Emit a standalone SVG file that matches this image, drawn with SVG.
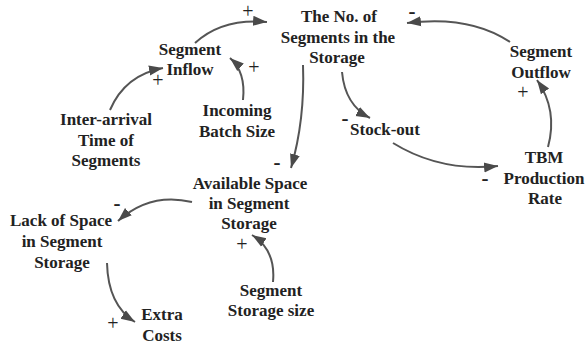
<svg xmlns="http://www.w3.org/2000/svg" width="586" height="344" viewBox="0 0 586 344" font-family="'Liberation Serif', 'Times New Roman', Times, serif">
<style>
.n text{font-weight:bold;font-size:17px;fill:#222;text-anchor:middle}
.e path{fill:none;stroke:#555;stroke-width:2;marker-end:url(#ah)}
.s{fill:#222;text-anchor:middle;dominant-baseline:central}
.p{font-size:20px}
.m{font-size:21px;font-weight:bold}
</style>
<defs>
<marker id="ah" markerUnits="userSpaceOnUse" markerWidth="15" markerHeight="12" refX="14" refY="5" orient="auto" viewBox="0 0 15 10">
<path d="M0,0 L14,5 L0,10 Z" fill="#4a4a4a"/>
</marker>
</defs>
<rect width="586" height="344" fill="#fff"/>
<g class="e" id="connectors">
<path d="M195,43 Q222,18 267,22"/>
<path d="M110,110 Q125,75 163,68"/>
<path d="M243,100 Q246,72 230,58"/>
<path d="M303,65 Q305,120 291,168"/>
<path d="M342,72 Q345,105 370,118"/>
<path d="M393,143 Q440,172 498,166"/>
<path d="M548,147 Q558,110 537,80"/>
<path d="M510,42 Q470,15 407,23"/>
<path d="M192,202 Q150,192 118,221"/>
<path d="M107,263 Q108,305 135,322"/>
<path d="M273,282 Q276,250 252,235"/>
</g>
<g class="n" id="storage"><text x="339" y="22">The No. of</text><text x="338" y="43">Segments in the</text><text x="337" y="63">Storage</text></g>
<g class="n" id="inflow"><text x="190" y="55">Segment</text><text x="190" y="75">Inflow</text></g>
<g class="n" id="interarrival"><text x="106" y="125">Inter-arrival</text><text x="106" y="146">Time of</text><text x="106" y="166">Segments</text></g>
<g class="n" id="batch"><text x="237" y="116">Incoming</text><text x="237" y="137">Batch Size</text></g>
<g class="n" id="outflow"><text x="541" y="57">Segment</text><text x="541" y="78">Outflow</text></g>
<g class="n" id="stockout"><text x="385" y="135">Stock-out</text></g>
<g class="n" id="tbm"><text x="544" y="163">TBM</text><text x="544" y="184">Production</text><text x="545" y="204">Rate</text></g>
<g class="n" id="available"><text x="250" y="189">Available Space</text><text x="249" y="209">in Segment</text><text x="249" y="229">Storage</text></g>
<g class="n" id="lack"><text x="61" y="226">Lack of Space</text><text x="62" y="247">in Segment</text><text x="62" y="268">Storage</text></g>
<g class="n" id="extra"><text x="162" y="320">Extra</text><text x="162" y="341">Costs</text></g>
<g class="n" id="size"><text x="271" y="296">Segment</text><text x="271" y="316">Storage size</text></g>
<g id="signs">
<text class="s p" x="248" y="11">+</text>
<text class="s p" x="158" y="80">+</text>
<text class="s p" x="254" y="67">+</text>
<text class="s m" x="277" y="162">-</text>
<text class="s m" x="345" y="118">-</text>
<text class="s m" x="485" y="178">-</text>
<text class="s p" x="523" y="92">+</text>
<text class="s m" x="412" y="11">-</text>
<text class="s m" x="117" y="203">-</text>
<text class="s p" x="113" y="323">+</text>
<text class="s p" x="242" y="244">+</text>
</g>
</svg>
